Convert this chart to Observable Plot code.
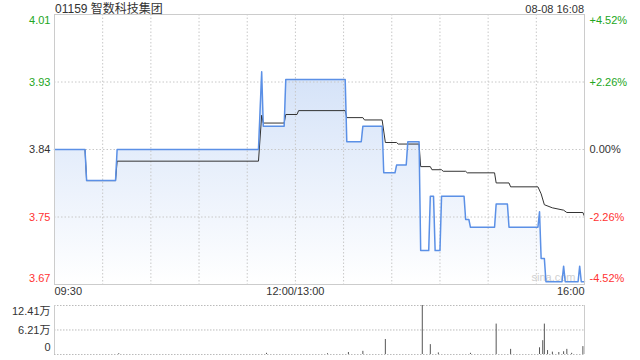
<!DOCTYPE html>
<html><head><meta charset="utf-8">
<script src="https://cdn.jsdelivr.net/npm/d3@7"></script>
<script src="https://cdn.jsdelivr.net/npm/@observablehq/plot@0.6"></script>
<style>
body{margin:0;background:#fff;}
#wrap{position:relative;width:640px;height:360px;font-family:Arial,"Liberation Sans","Noto Sans CJK SC",sans-serif;overflow:hidden}
.t{position:absolute;color:#333;line-height:14px;white-space:nowrap}
</style></head><body>
<div id="wrap">
 <div id="main" style="position:absolute;left:0;top:0"></div>
 <div id="vol" style="position:absolute;left:0;top:300px"></div>
 <div class="t" style="left:55px;top:2px;font-size:12px">01159 智数科技集团</div>
 <div class="t" style="right:56px;top:2px;font-size:11px">08-08 16:08</div>
</div>
<script>
// ---------- data ----------
const prevClose = 3.84;
const priceTimes = ["09:30","09:49","09:50","10:08","10:09","11:37","11:39","11:40","11:53","11:54","13:31","13:32","13:41","13:42","13:54","13:55","14:02","14:03","14:09","14:10","14:17","14:18","14:23","14:24","14:26","14:27","14:30","14:31","14:45","14:46","14:48","14:49","15:04","15:05","15:12","15:13","15:31","15:32","15:33","15:35","15:36","15:46","15:47","15:48","15:56","15:57","15:58","16:00"];
const prices     = [3.84,3.84,3.80,3.80,3.84,3.84,3.94,3.87,3.87,3.93,3.93,3.85,3.85,3.87,3.87,3.81,3.81,3.82,3.82,3.85,3.85,3.71,3.71,3.78,3.78,3.71,3.71,3.78,3.78,3.75,3.75,3.74,3.74,3.77,3.77,3.74,3.74,3.76,3.70,3.70,3.67,3.67,3.69,3.67,3.67,3.69,3.67,3.67];
const avgTimes = ["09:30","09:49","09:50","10:08","10:09","11:37","11:39","11:40","11:53","11:54","13:01","13:02","13:31","13:32","13:42","13:43","13:54","13:56","14:03","14:04","14:17","14:18","14:24","14:25","14:31","14:32","14:46","14:47","15:04","15:05","15:13","15:14","15:31","15:33","15:35","15:40","15:47","15:49","15:59","16:00"];
const avgPrices = [3.84,3.84,3.80,3.80,3.825,3.825,3.884,3.874,3.874,3.885,3.885,3.890,3.890,3.881,3.881,3.878,3.878,3.849,3.849,3.847,3.847,3.818,3.818,3.814,3.814,3.812,3.812,3.810,3.810,3.797,3.797,3.792,3.792,3.783,3.769,3.765,3.762,3.759,3.759,3.754];
const volTimes = ["10:10","11:42","13:20","13:33","13:42","13:56","14:19","14:24","14:29","14:49","15:05","15:14","15:32","15:34","15:35","15:37","15:40","15:44","15:47","15:49","15:52","15:59","16:00"];
const volumes  = [0.2,0.3,0.2,0.5,0.8,3.8,12.41,2.5,0.4,0.3,7.7,1.3,1.7,3.5,7.7,1.0,0.6,0.5,0.7,1.3,0.3,2.0,2.0]; // 万
const pctLevels = [4.52, 2.26, 0, -2.26, -4.52];
const leftLabels = ["4.01","3.93","3.84","3.75","3.67"];
const rightLabels = ["+4.52%","+2.26%","0.00%","-2.26%","-4.52%"];
const volLevels = [12.41, 6.21, 0];
const volLabels = ["12.41万","6.21万","0"];
const timeLabelTimes = ["09:30","12:00","16:00"];
const timeLabels = ["09:30","12:00/13:00","16:00"];

// ---------- helpers ----------
function toMin(s){const [h,m]=s.split(":").map(Number);const t=h*60+m;return t<=720? t-570 : t-780+150;}
const priceData = priceTimes.map((t,i)=>({m:toMin(t),p:prices[i]}));
const avgData = avgTimes.map((t,i)=>({m:toMin(t),p:avgPrices[i]}));
const volData = volTimes.map((t,i)=>({m:toMin(t),v:volumes[i]}));
const levels = pctLevels.map((pct,i)=>({y:prevClose*(1+pct/100),pct,left:leftLabels[i],right:rightLabels[i],i}));
const yMax = levels[0].y, yMin = levels[levels.length-1].y;
const col = d => d.pct>0 ? "#22a622" : d.pct<0 ? "#ff3333" : "#333";
const timeRows = timeLabelTimes.map((t,i)=>({m:toMin(t),label:timeLabels[i]}));
const gridMins = d3.range(30,330,30);
const font = "Arial, 'Liberation Sans', 'Noto Sans CJK SC', sans-serif";

const defs = () => {
  const d = document.createElementNS("http://www.w3.org/2000/svg","defs");
  d.innerHTML = '<linearGradient id="pgrad" x1="0" y1="0" x2="0" y2="1"><stop offset="0" stop-color="#d4e2f8"/><stop offset="1" stop-color="#ffffff"/></linearGradient>';
  return d;
};

function labelMarks(rows, side){
  const n = rows.length;
  const out = [];
  const groups = [[rows[0]], rows.slice(1,n-1), [rows[n-1]]];
  const dys = [6,0,-6];
  groups.forEach((g,k)=>{
    out.push(Plot.text(g,{y:"y",text:"left",frameAnchor:"left",textAnchor:"end",dx:-4,dy:dys[k],fill:col}));
    out.push(Plot.text(g,{y:"y",text:"right",frameAnchor:"right",textAnchor:"start",dx:5,dy:dys[k],fill:col}));
  });
  return out;
}

const main = Plot.plot({
  width:640, height:300,
  marginLeft:54, marginRight:56, marginTop:14, marginBottom:16,
  x:{domain:[0,330], axis:null},
  y:{domain:[yMin,yMax], axis:null},
  style:{fontFamily:font, fontSize:"11px", background:"transparent", overflow:"visible"},
  marks:[
    defs,
    Plot.areaY(priceData,{x:"m", y1:yMin, y2:"p", fill:"url(#pgrad)"}),
    Plot.ruleX(gridMins,{stroke:"#c8c8c8", strokeDasharray:"1.5,2"}),
    Plot.ruleY(levels.slice(1,-1),{y:"y", stroke:"#c8c8c8", strokeDasharray:"1.5,2"}),
    Plot.text(["sina.com"],{frameAnchor:"bottom-right", dx:-9, dy:-4, fill:"#d0d0d0", fontSize:11}),
    Plot.line(avgData,{x:"m", y:"p", stroke:"#333", strokeWidth:1}),
    Plot.line(priceData,{x:"m", y:"p", stroke:"#5b90e6", strokeWidth:1.5}),
    Plot.frame({stroke:"#cccccc"}),
    ...labelMarks(levels),
    Plot.text([timeRows[0]],{x:"m", text:"label", frameAnchor:"bottom", textAnchor:"start", dy:10, fill:"#333"}),
    Plot.text([timeRows[1]],{x:"m", text:"label", frameAnchor:"bottom", textAnchor:"middle", dy:10, fill:"#333"}),
    Plot.text([timeRows[2]],{x:"m", text:"label", frameAnchor:"bottom", textAnchor:"end", dy:10, fill:"#333"})
  ]
});
document.getElementById("main").appendChild(main);

const volRows = volLevels.map((v,i)=>({v,label:volLabels[i],i}));
const vol = Plot.plot({
  width:640, height:60,
  marginLeft:54, marginRight:56, marginTop:5, marginBottom:6,
  x:{domain:[0,330], axis:null},
  y:{domain:[0,12.41], axis:null},
  style:{fontFamily:font, fontSize:"11px", background:"transparent", overflow:"visible"},
  marks:[
    Plot.ruleY(volLevels,{stroke:"#bbbbbb", strokeDasharray:"1.5,1.5"}),
    Plot.ruleX(volData,{x:"m", y1:0, y2:"v", stroke:"#555"}),
    Plot.ruleX([0,330],{stroke:"#cccccc"}),
    Plot.text([volRows[0]],{y:"v", text:"label", frameAnchor:"left", textAnchor:"end", dx:-4, dy:6, fill:"#333"}),
    Plot.text([volRows[1]],{y:"v", text:"label", frameAnchor:"left", textAnchor:"end", dx:-4, fill:"#333"}),
    Plot.text([volRows[2]],{y:"v", text:"label", frameAnchor:"left", textAnchor:"end", dx:-4, dy:-7, fill:"#333"})
  ]
});
document.getElementById("vol").appendChild(vol);
</script>
</body></html>
